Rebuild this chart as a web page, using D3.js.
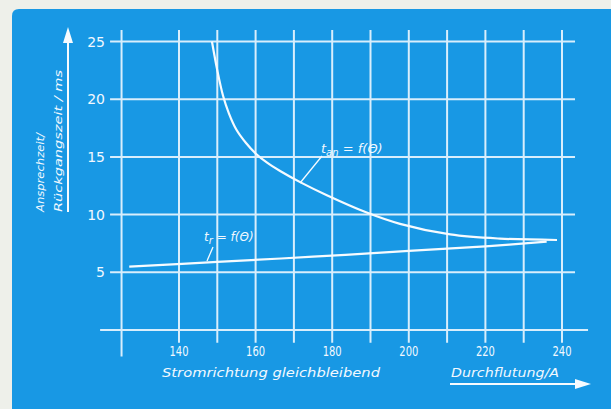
<!DOCTYPE html>
<html>
<head>
<meta charset="utf-8">
<script src="https://cdn.jsdelivr.net/npm/d3@7"></script>
<style>
  html, body { margin: 0; padding: 0; background: #eef0ea; }
  svg { display: block; }
  text { font-family: "DejaVu Sans", "Liberation Sans", sans-serif; fill: #f2f8ff; }
</style>
</head>
<body>
<svg id="chart" width="611" height="409"></svg>
<script>
// Durchflutung (A) grid and tick values
const xTicks = [140, 160, 180, 200, 220, 240];
const xGrid = [125, 140, 150, 160, 170, 180, 190, 200, 210, 220, 230, 240];
const yTicks = [5, 10, 15, 20, 25];

// Ansprechzeit t_an as a function of Θ (A, ms)
const tanCurrent = [148.6, 150, 151.5, 153, 155, 157.5, 160, 163, 166.4, 172, 178.6, 189, 197.7, 210.8, 223.8, 238.7];
const tanTime    = [25.0, 22.5, 20.3, 18.8, 17.35, 16.2, 15.3, 14.5, 13.78, 12.75, 11.68, 10.18, 9.2, 8.28, 7.92, 7.8];

// Rückgangszeit t_r as a function of Θ (A, ms)
const trCurrent = [127, 150, 175, 200, 220, 236];
const trTime    = [5.5, 5.9, 6.35, 6.85, 7.25, 7.65];

const svg = d3.select("#chart");
const W = 611, H = 409;

const x = d3.scaleLinear().domain([140, 240]).range([179, 562]);
const y = d3.scaleLinear().domain([0, 25]).range([330, 41.5]);

const blue = "#1898e4";
const gridCol = "#d8eefc";
const curveCol = "#f6fbff";

// panel
svg.append("path")
  .attr("d", `M12,${H} L12,16 Q12,9 19,9 L${W},9 L${W},${H} Z`)
  .attr("fill", blue);

const g = svg.append("g");

// vertical grid lines
g.selectAll("line.vg").data(xGrid).join("line")
  .attr("x1", d => x(d)).attr("x2", d => x(d))
  .attr("y1", y(26)).attr("y2", d => d === 125 ? y(-2.3) : y(-1.1))
  .attr("stroke", gridCol).attr("stroke-width", 2);

// horizontal grid lines
g.selectAll("line.hg").data(yTicks).join("line")
  .attr("x1", x(122)).attr("x2", x(243.4))
  .attr("y1", d => y(d)).attr("y2", d => y(d))
  .attr("stroke", gridCol).attr("stroke-width", 2);

// base line at 0 ms
g.append("line")
  .attr("x1", x(119.4)).attr("x2", x(246.8))
  .attr("y1", y(0)).attr("y2", y(0))
  .attr("stroke", gridCol).attr("stroke-width", 2.2);

// y tick labels
g.selectAll("text.yt").data(yTicks).join("text")
  .attr("x", 105).attr("y", d => y(d) + 5)
  .attr("text-anchor", "end")
  .attr("font-size", 14)
  .text(d => d);

// x tick labels
g.selectAll("text.xt").data(xTicks).join("text")
  .attr("x", d => x(d)).attr("y", 356)
  .attr("text-anchor", "middle")
  .attr("font-size", 14)
  .attr("textLength", 19).attr("lengthAdjust", "spacingAndGlyphs")
  .text(d => d);

// curves
const line = d3.line().x(d => x(d[0])).y(d => y(d[1])).curve(d3.curveCatmullRom.alpha(0.5));
const tan = tanCurrent.map((a, i) => [a, tanTime[i]]);
const tr = trCurrent.map((a, i) => [a, trTime[i]]);

g.append("path").attr("d", line(tan))
  .attr("fill", "none").attr("stroke", curveCol).attr("stroke-width", 2.2);
g.append("path").attr("d", line(tr))
  .attr("fill", "none").attr("stroke", curveCol).attr("stroke-width", 2.2);

// curve labels with leader lines
const lab = g.append("g").attr("font-style", "italic");
const l1 = lab.append("text").attr("x", 321).attr("y", 153).attr("font-size", 13);
l1.append("tspan").text("t");
l1.append("tspan").attr("font-size", 10).attr("dy", 3).text("an");
l1.append("tspan").attr("dy", -3).text(" = f(Θ)");
g.append("line").attr("x1", 322).attr("y1", 156).attr("x2", 300).attr("y2", 183)
  .attr("stroke", curveCol).attr("stroke-width", 1.3);

const l2 = lab.append("text").attr("x", 204).attr("y", 241).attr("font-size", 12);
l2.append("tspan").text("t");
l2.append("tspan").attr("font-size", 10).attr("dy", 3).text("r");
l2.append("tspan").attr("dy", -3).text(" = f(Θ)");
g.append("line").attr("x1", 213).attr("y1", 247).attr("x2", 207).attr("y2", 261)
  .attr("stroke", curveCol).attr("stroke-width", 1.3);

// x axis titles
g.append("text").attr("x", 162).attr("y", 377)
  .attr("font-size", 13).attr("font-style", "italic")
  .attr("textLength", 218).attr("lengthAdjust", "spacingAndGlyphs")
  .text("Stromrichtung gleichbleibend");
g.append("text").attr("x", 451).attr("y", 377)
  .attr("font-size", 13).attr("font-style", "italic")
  .attr("textLength", 108).attr("lengthAdjust", "spacingAndGlyphs")
  .text("Durchflutung/A");
g.append("line").attr("x1", 450).attr("x2", 577).attr("y1", 384).attr("y2", 384)
  .attr("stroke", curveCol).attr("stroke-width", 2);
g.append("path").attr("d", "M575,379 L591,384 L575,389 Z").attr("fill", curveCol);

// y axis title
g.append("line").attr("x1", 68).attr("x2", 68).attr("y1", 212).attr("y2", 40)
  .attr("stroke", curveCol).attr("stroke-width", 2);
g.append("path").attr("d", "M63,43 L68,27 L73,43 Z").attr("fill", curveCol);
g.append("text").attr("transform", "translate(44,212) rotate(-90)")
  .attr("font-size", 11).attr("font-style", "italic")
  .attr("textLength", 79).attr("lengthAdjust", "spacingAndGlyphs")
  .text("Ansprechzeit/");
g.append("text").attr("transform", "translate(62,212) rotate(-90)")
  .attr("font-size", 11).attr("font-style", "italic")
  .attr("textLength", 142).attr("lengthAdjust", "spacingAndGlyphs")
  .text("Rückgangszeit / ms");
</script>
</body>
</html>
